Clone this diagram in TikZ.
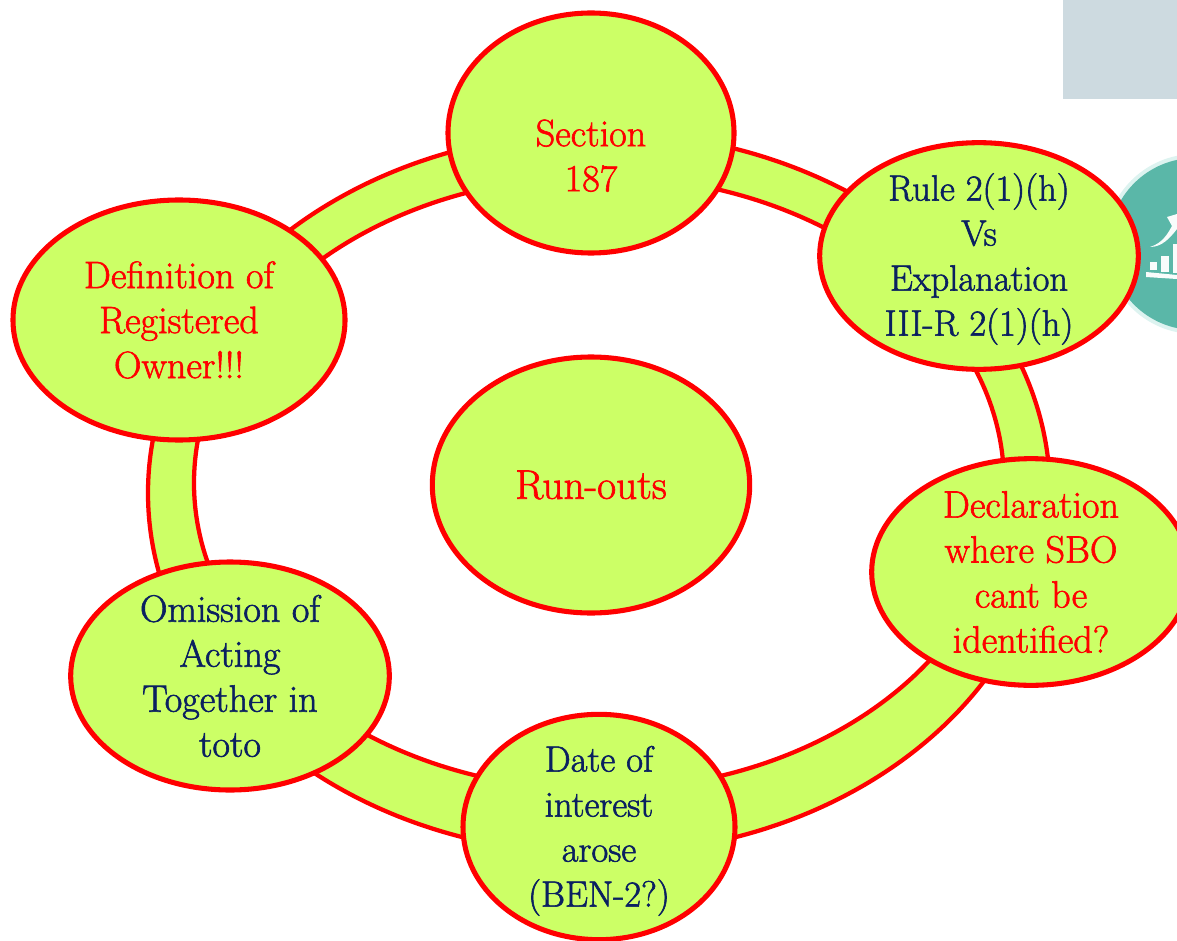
\documentclass[tikz,border=0pt]{standalone}
\usepackage{fontspec}
\setmainfont{Latin Modern Roman}[FakeBold=1.6]
\usetikzlibrary{shapes.geometric}
\definecolor{lime}{HTML}{CCFF66}
\definecolor{navyt}{HTML}{0A2060}
\definecolor{rd}{HTML}{FF0000}
\definecolor{graybox}{HTML}{CDDAE0}
\definecolor{teal1}{HTML}{5AB7A8}
\definecolor{halo}{HTML}{DDF3F0}
\tikzset{
  bub/.style={ellipse,draw=rd,fill=lime,line width=3.8pt,inner sep=-30pt,align=center,font=\fontsize{27.4}{33.75}\selectfont},
  redt/.style={text=rd,font=\fontsize{28.6}{33.75}\selectfont},
  navt/.style={text=navyt}
}
\newcommand{\lift}{\rule{0pt}{25pt}}
\begin{document}
\begin{tikzpicture}[x=0.75pt,y=-0.75pt]
\useasboundingbox (0,0) rectangle (1177,941);
\clip (0,0) rectangle (1177,941);
\fill[graybox] (1063,0) rectangle (1177,99);
% teal badge
\fill[halo] (1195,244) circle [x radius=90,y radius=90];
\fill[teal1] (1195,244) circle [x radius=86,y radius=86];
\fill[white!96!teal1] (1150,247) .. controls (1163,243) and (1168,233) .. (1172,226) -- (1167,217) -- (1177,214) -- (1177,229) .. controls (1170,238) and (1162,247) .. (1150,247) -- cycle;
\fill[white!96!teal1] (1150,262) rectangle (1157,270);
\fill[white!96!teal1] (1161,256) rectangle (1169,272);
\fill[white!96!teal1] (1173,244) rectangle (1177,273);
\fill[white!96!teal1] (1146,272) -- (1177,275) -- (1177,279) -- (1146,277) -- cycle;
% ring
\path[fill=lime,even odd rule,draw=rd,line width=3.2pt] (599,493) ellipse (451 and 361) (599,483) ellipse (405 and 307);
% bubbles
\node[bub,redt,minimum width=214.5pt,minimum height=180pt] (sec) at (591,133) {\rule{0pt}{54pt}Section\\187};
\node[bub,navt,minimum width=239pt,minimum height=170pt] (rule) at (979,256) {\lift Rule 2(1)(h)\\Vs\\Explanation\\III-R 2(1)(h)};
\node[bub,redt,minimum width=239pt,minimum height=170pt] (decl) at (1031,572) {Declaration\\where SBO\\cant be\\identified?};
\node[bub,navt,minimum width=204pt,minimum height=169pt] (date) at (599,827) {\lift Date of\\interest\\arose\\(BEN-2?)};
\node[bub,navt,minimum width=239pt,minimum height=171pt,font=\fontsize{28.6}{33.75}\selectfont] (omi) at (230,676) {Omission of\\Acting\\Together in\\toto};
\node[bub,redt,minimum width=249pt,minimum height=180pt] (def) at (179,320) {Definition of\\Registered\\Owner!!!};
\node[bub,redt,minimum width=238pt,minimum height=192pt,font=\fontsize{31}{36}\selectfont] (run) at (591,485) {Run-outs};
\end{tikzpicture}
\end{document}
